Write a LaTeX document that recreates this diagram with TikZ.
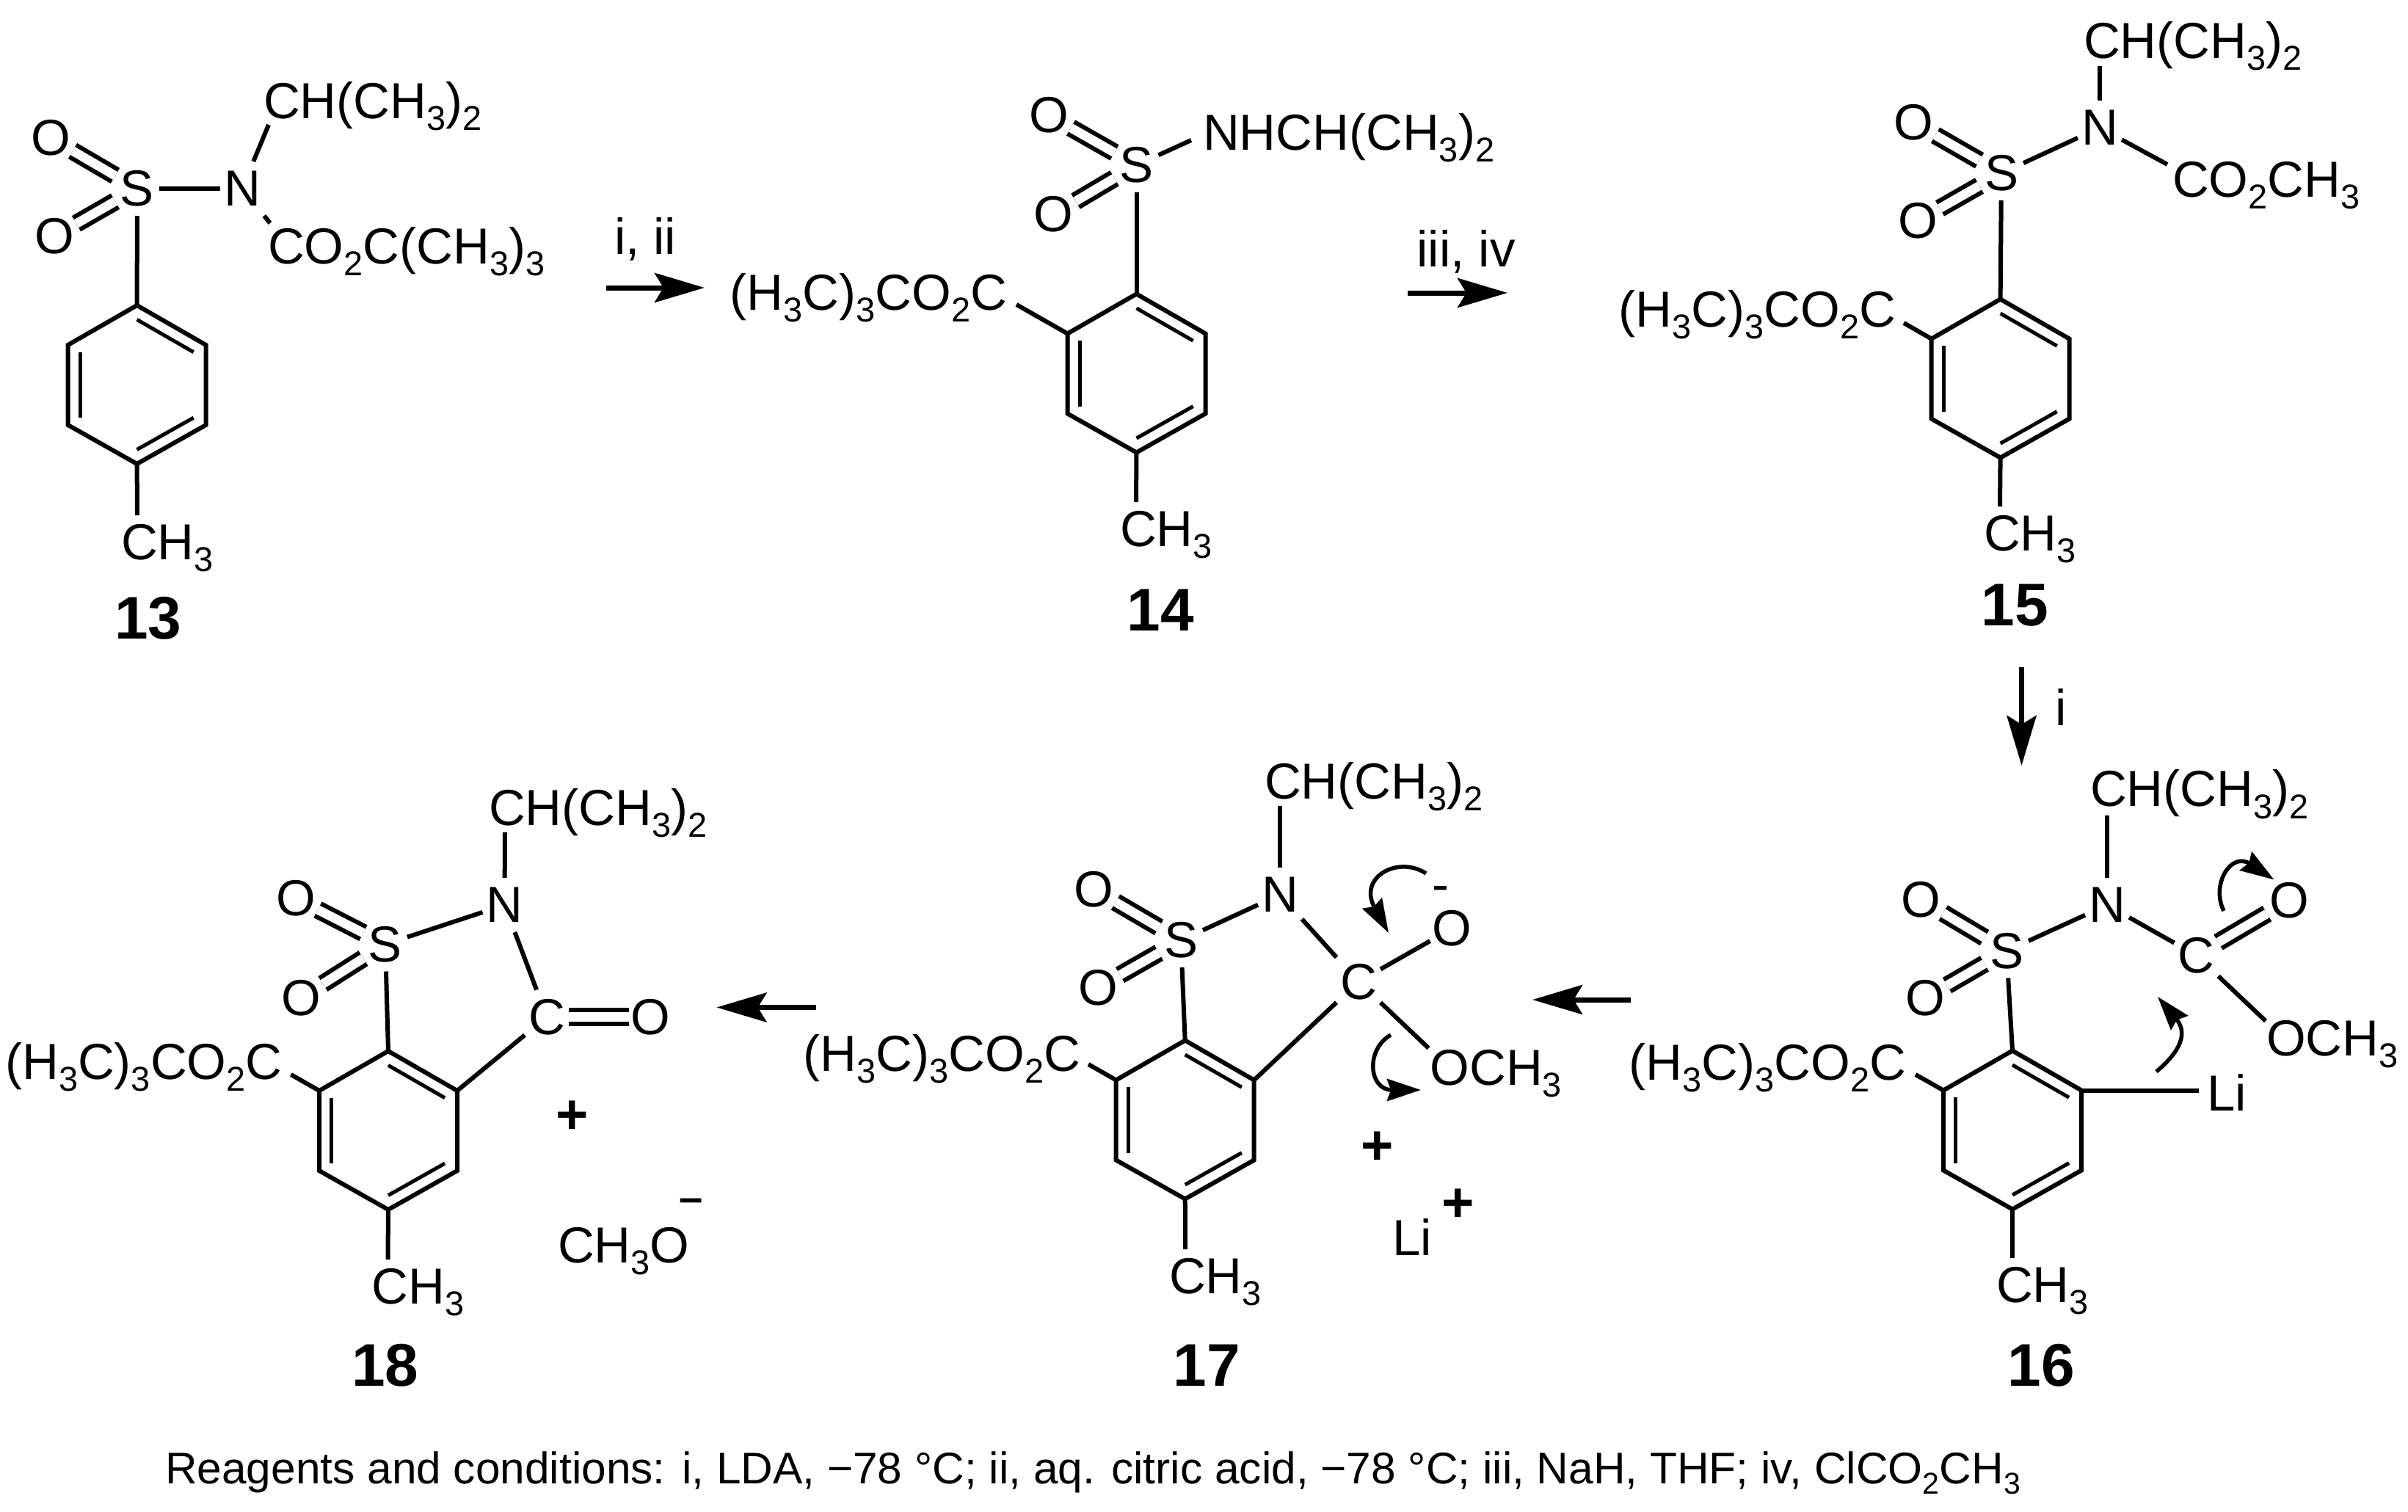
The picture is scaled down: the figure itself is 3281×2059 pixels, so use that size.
\documentclass[tikz,border=0pt]{standalone}
\usepackage{fontspec}
\setmainfont{Liberation Sans}
\usetikzlibrary{arrows.meta,calc}
\newcommand{\sbs}[1]{\raisebox{-.24em}{\scalebox{.68}{#1}}}
\newcommand{\chemfont}{\fontsize{69}{73}\selectfont}
\tikzstyle{atom} = [rectangle, inner sep=0pt, outer sep=0pt, minimum width=60pt, minimum height=74pt, font=\chemfont]
\tikzstyle{chem} = [anchor=base west, inner sep=0pt, outer sep=0pt, font=\chemfont]
\tikzstyle{chemr} = [anchor=base east, inner sep=0pt, outer sep=0pt, font=\chemfont]
\tikzstyle{number} = [anchor=base, inner sep=0pt, font=\bfseries\fontsize{82}{86}\selectfont]
\tikzstyle{charge} = [inner sep=0pt, font=\bfseries\fontsize{76}{80}\selectfont]
\tikzstyle{bond} = [draw, line width=6pt]
\tikzstyle{inner} = [draw, line width=5pt]
\tikzstyle{dbond} = [draw, line width=6pt, double, double distance=12.5pt]
\tikzstyle{react} = [draw, line width=7pt, -{Stealth[length=68pt,width=40pt,inset=12pt]}]
\tikzstyle{curly} = [draw, line width=5.5pt, -{Stealth[length=46pt,width=30pt,inset=5pt]}]
% ring: name, centre x, centre y
\newcommand{\benzene}[3]{
	\coordinate (#1o) at (#2,#3);
	\coordinate (#1a) at (#2,#3-108);
	\coordinate (#1b) at (#2+94,#3-54);
	\coordinate (#1c) at (#2+94,#3+55);
	\coordinate (#1d) at (#2,#3+108);
	\coordinate (#1e) at (#2-94,#3+55);
	\coordinate (#1f) at (#2-94,#3-54);
	\path [bond, line join=miter] (#1a) -- (#1b) -- (#1c) -- (#1d) -- (#1e) -- (#1f) -- cycle;
	\foreach \p/\q in {a/b,c/d,e/f}
		\path [inner] ($(#1\p)!.18!(#1o)$) -- ($(#1\q)!.18!(#1o)$);
}

\begin{document}
\begin{tikzpicture}[x=1pt,y=-1pt]
	\useasboundingbox (0,0) rectangle (3281,2059);

	%Place nodes: 13
	\benzene{r13}{186.6}{524}
	\node [atom] (S13) at (187,257) {S};
	\node [atom] (N13) at (330,257) {N};
	\node [atom] (Oa13) at (69,188) {O};
	\node [atom] (Ob13) at (74,322) {O};
	\node [chem] (iso13) at (359,161) {CH(CH\sbs{3})\sbs{2}};
	\node [chem] (boc13) at (365,359) {CO\sbs{2}C(CH\sbs{3})\sbs{3}};
	\node [chem] (me13) at (165,762) {CH\sbs{3}};
	\node [number] (num13) at (202,870) {13};

	%Place nodes: 14
	\benzene{r14}{1548.5}{508.5}
	\node [atom] (S14) at (1548.5,225) {S};
	\node [atom] (Oa14) at (1429,157) {O};
	\node [atom] (Ob14) at (1435.5,292) {O};
	\node [chem] (nh14) at (1639,204) {NHCH(CH\sbs{3})\sbs{2}};
	\node [chemr] (ester14) at (1372,422) {(H\sbs{3}C)\sbs{3}CO\sbs{2}C};
	\node [chem] (me14) at (1526,744) {CH\sbs{3}};
	\node [number] (num14) at (1581,859) {14};

	%Place nodes: 15
	\benzene{r15}{2725.6}{515.6}
	\node [atom] (S15) at (2727,236) {S};
	\node [atom] (N15) at (2861,174) {N};
	\node [atom] (Oa15) at (2607,167) {O};
	\node [atom] (Ob15) at (2613,301) {O};
	\node [chem] (iso15) at (2839,79) {CH(CH\sbs{3})\sbs{2}};
	\node [chem] (moc15) at (2960,268) {CO\sbs{2}CH\sbs{3}};
	\node [chemr] (ester15) at (2583,445) {(H\sbs{3}C)\sbs{3}CO\sbs{2}C};
	\node [chem] (me15) at (2703,750) {CH\sbs{3}};
	\node [number] (num15) at (2745,852) {15};

	%Place nodes: 16
	\benzene{r16}{2742}{1539.5}
	\node [atom] (S16) at (2734,1295.5) {S};
	\node [atom] (N16) at (2871,1233) {N};
	\node [atom] (C16) at (2992.5,1301.5) {C};
	\node [atom] (Oa16) at (2617.5,1226) {O};
	\node [atom] (Ob16) at (2623,1360) {O};
	\node [atom] (Oc16) at (3119,1227) {O};
	\node [chem] (iso16) at (2848,1098.5) {CH(CH\sbs{3})\sbs{2}};
	\node [chem] (ome16) at (3088,1438) {OCH\sbs{3}};
	\node [chem] (li16) at (3007,1513.5) {Li};
	\node [chemr] (ester16) at (2597,1471) {(H\sbs{3}C)\sbs{3}CO\sbs{2}C};
	\node [chem] (me16) at (2720,1774) {CH\sbs{3}};
	\node [number] (num16) at (2781,1888) {16};

	%Place nodes: 17
	\benzene{r17}{1614.7}{1525.5}
	\node [atom] (S17) at (1609,1281) {S};
	\node [atom] (N17) at (1744,1219) {N};
	\node [atom] (C17) at (1851,1337.5) {C};
	\node [atom] (Oa17) at (1490,1211.5) {O};
	\node [atom] (Ob17) at (1496,1345.5) {O};
	\node [atom] (Oc17) at (1978.5,1265) {O};
	\node [chem] (iso17) at (1723,1088) {CH(CH\sbs{3})\sbs{2}};
	\node [chem] (ome17) at (1948.5,1478) {OCH\sbs{3}};
	\node [chemr] (ester17) at (1472,1459) {(H\sbs{3}C)\sbs{3}CO\sbs{2}C};
	\node [chem] (me17) at (1593,1762) {CH\sbs{3}};
	\node [number] (num17) at (1644,1888) {17};
	\node [inner sep=0pt, font=\chemfont] (neg17) at (1963,1218) {-};
	\node [charge] (plusa17) at (1876.5,1564) {+};
	\node [chem] (li17) at (1897,1710) {Li};
	\node [charge] (plusb17) at (1987,1642) {+};

	%Place nodes: 18
	\benzene{r18}{529}{1540}
	\node [atom] (S18) at (525,1286.5) {S};
	\node [atom] (N18) at (687.5,1233) {N};
	\node [atom] (C18) at (745,1385.5) {C};
	\node [atom] (Oa18) at (403,1224) {O};
	\node [atom] (Ob18) at (410,1359.5) {O};
	\node [atom] (Oc18) at (886.5,1385.5) {O};
	\node [chem] (iso18) at (666,1124) {CH(CH\sbs{3})\sbs{2}};
	\node [chemr] (ester18) at (384.5,1470) {(H\sbs{3}C)\sbs{3}CO\sbs{2}C};
	\node [chem] (me18) at (506.5,1776) {CH\sbs{3}};
	\node [number] (num18) at (525,1888) {18};
	\node [charge] (plus18) at (780,1522) {+};
	\node [chem] (meo18) at (760,1720) {CH\sbs{3}O};
	\node [charge] (neg18) at (942,1642) {\fontsize{58}{60}\selectfont --};

	%Reagents over the arrows
	\node [chem] (cond12) at (837,346) {i, ii};
	\node [chem] (cond23) at (1930.5,363) {iii, iv};
	\node [chem] (cond34) at (2800.5,988) {i};
	\node [anchor=base west, inner sep=0pt, font=\fontsize{60.4}{64}\selectfont] (caption) at (225,2021) {Reagents and conditions: i, LDA, −78 °C; ii, aq. citric acid, −78 °C; iii, NaH, THF; iv, ClCO\sbs{2}CH\sbs{3}};

	%Arrow ends
	\coordinate (a12s) at (826,392);
	\coordinate (a12e) at (960,392);
	\coordinate (a23s) at (1918,399);
	\coordinate (a23e) at (2054,399);
	\coordinate (a34s) at (2754.5,909);
	\coordinate (a34e) at (2754.5,1043);
	\coordinate (a45s) at (2222,1362);
	\coordinate (a45e) at (2088,1362);
	\coordinate (a56s) at (1112,1372.5);
	\coordinate (a56e) at (976.5,1372.5);

	\path [react] (a12s) -- (a12e);
	\path [react] (a23s) -- (a23e);
	\path [react] (a34s) -- (a34e);
	\path [react] (a45s) -- (a45e);
	\path [react] (a56s) -- (a56e);

	%Bonds
	\foreach \m in {13,14,15,16,17,18} {
		\path [dbond] (S\m) -- (Oa\m);
		\path [dbond] (S\m) -- (Ob\m);
		\path [bond] (S\m) -- (r\m a);
		\path [bond] (r\m d) -- ([shift={(22pt,60pt)}]me\m.base west);
	}
	\path [bond] ([shift={(13pt,7pt)}]ester14.base east) -- (r14f);
	\path [bond] ([shift={(11pt,5pt)}]ester15.base east) -- (r15f);
	\path [bond] ([shift={(13pt,7pt)}]ester16.base east) -- (r16f);
	\path [bond] ([shift={(11pt,9pt)}]ester17.base east) -- (r17f);
	\path [bond] ([shift={(12pt,6pt)}]ester18.base east) -- (r18f);

	\path [bond] (S13) -- (N13);
	\path [bond] (N13) -- ([shift={(7pt,-9pt)}]iso13.base west);
	\path [bond] (N13) -- ([shift={(3pt,55pt)}]boc13.base west);

	\path [bond] (S14) -- ([shift={(-16pt,13pt)}]nh14.base west);

	\path [bond] (S15) -- (N15);
	\path [bond] (N15) -- ([shift={(22pt,-11pt)}]iso15.base west);
	\path [bond] (N15) -- ([shift={(-7pt,44pt)}]moc15.base west);

	\path [bond] (S16) -- (N16);
	\path [bond] (N16) -- ([shift={(23pt,-12pt)}]iso16.base west);
	\path [bond] (N16) -- (C16);
	\path [dbond] (C16) -- (Oc16);
	\path [bond] (C16) -- ([shift={(-1pt,47pt)}]ome16.base west);
	\path [bond] (r16b) -- ([shift={(-11pt,28pt)}]li16.base west);

	\path [bond] (S17) -- (N17);
	\path [bond] (N17) -- ([shift={(21pt,-10pt)}]iso17.base west);
	\path [bond] (N17) -- (C17);
	\path [bond] (C17) -- (Oc17);
	\path [bond] (C17) -- ([shift={(-2pt,50pt)}]ome17.base west);
	\path [bond] (C17) -- (r17b);

	\path [bond] (S18) -- (N18);
	\path [bond] (N18) -- ([shift={(22pt,-10pt)}]iso18.base west);
	\path [bond] (N18) -- (C18);
	\path [dbond] (C18) -- (Oc18);
	\path [bond] (C18) -- (r18b);

	%Electron pushing
	\coordinate (ca16s) at (3030,1241);
	\coordinate (ca16e) at (3098.5,1198.5);
	\coordinate (cb16s) at (2938,1460);
	\coordinate (cb16e) at (2940,1358);
	\coordinate (ca17s) at (1943,1190);
	\coordinate (ca17e) at (1892,1271);
	\coordinate (cb17s) at (1895,1410);
	\coordinate (cb17e) at (1936,1485);

	\path [curly] (ca16s) .. controls (3012,1205) and (3040,1160) .. (ca16e);
	\path [curly] (cb16s) .. controls (2962,1440) and (2985,1412) .. (cb16e);
	\path [curly] (ca17s) .. controls (1905,1165) and (1850,1195) .. (ca17e);
	\path [curly] (cb17s) .. controls (1860,1430) and (1865,1485) .. (cb17e);
\end{tikzpicture}
\end{document}
